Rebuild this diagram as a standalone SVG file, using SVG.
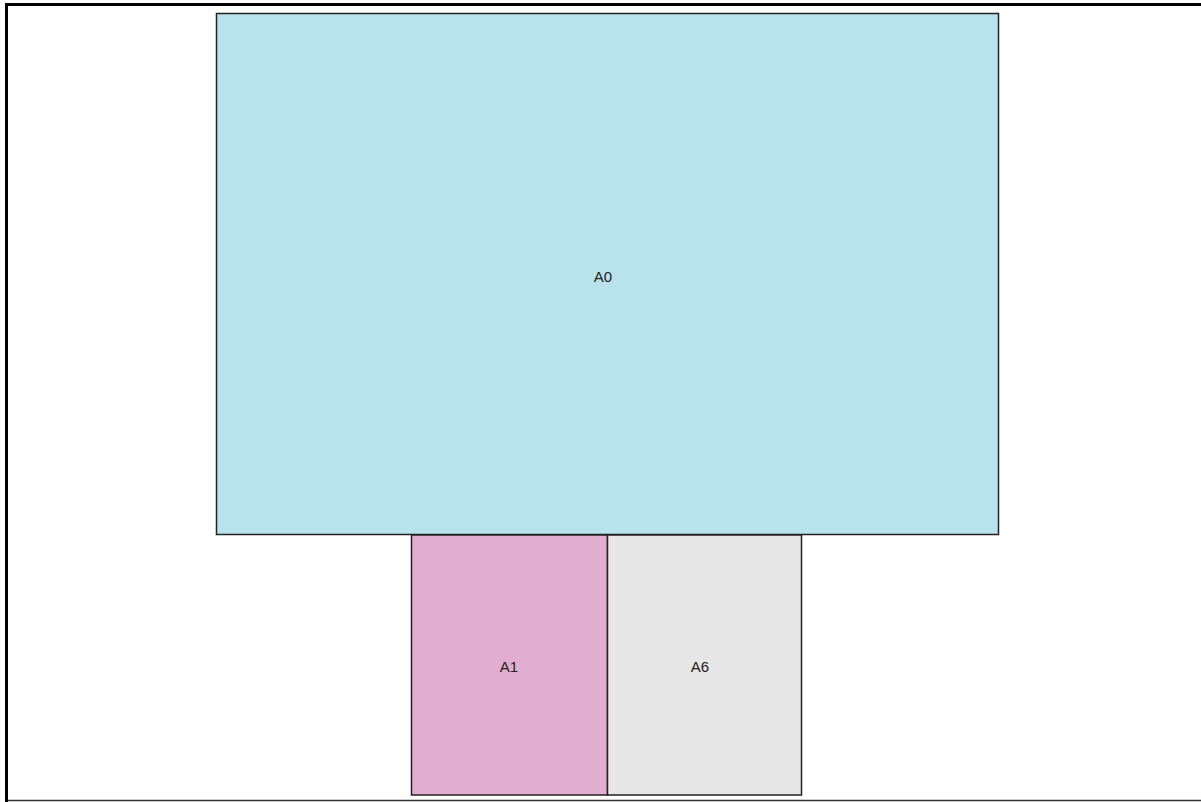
<svg xmlns="http://www.w3.org/2000/svg" width="1201" height="802" viewBox="0 0 1201 802">
<style>
.box{stroke:#222;stroke-width:1.5}
.lbl{font-family:"Liberation Sans",Arial,sans-serif;font-size:15px;fill:#222;text-anchor:middle;dominant-baseline:central}
</style>
<rect x="0" y="0" width="1201" height="802" fill="#fff"/>
<g id="frame">
<line x1="5" y1="4.5" x2="1201" y2="4.5" stroke="#000" stroke-width="3"/>
<line x1="6.5" y1="3" x2="6.5" y2="802" stroke="#000" stroke-width="3"/>
<line x1="8" y1="800.5" x2="1201" y2="800.5" stroke="#333" stroke-width="1.5"/>
</g>
<g id="A0">
<rect class="box" x="216.5" y="13.5" width="782" height="521" fill="#b9e3ec"/>
<text class="lbl" x="603" y="276">A0</text>
</g>
<g id="A1">
<rect class="box" x="411.5" y="535" width="196" height="260" fill="#e2aed0"/>
<text class="lbl" x="509" y="666">A1</text>
</g>
<g id="A6">
<rect class="box" x="607.5" y="535" width="194" height="260" fill="#e7e7e7"/>
<text class="lbl" x="700" y="666">A6</text>
</g>
<g id="connectors"></g>
</svg>
